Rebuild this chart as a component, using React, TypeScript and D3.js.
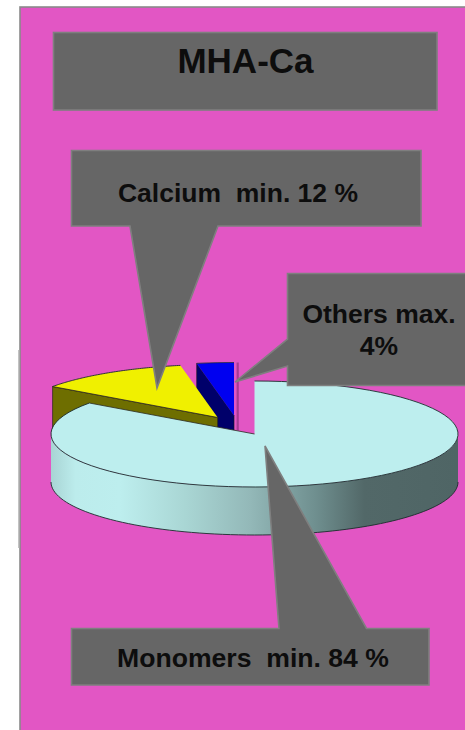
import React from "react";
import * as d3 from "d3";

// Composition of the product, in percent
const categories = ["Monomers", "Calcium", "Others"];
const sliceValues = [84, 12, 4];
const title = "MHA-Ca";
const calloutLabels = [["Calcium  min. 12 %"], ["Others max.", "4%"], ["Monomers  min. 84 %"]];

const W = 465;
const H = 730;
const RX = 203.5;
const RY = 53;
const DEPTH = 48;
const DEG = Math.PI / 180;

// Exploded slice centres on the tilted plane
const centres: Record<string, { x: number; y: number }> = {
  Monomers: { x: 254.5, y: 434 },
  Calcium: { x: 217.7, y: 417.5 },
  Others: { x: 234, y: 415.5 },
};

const colours: Record<string, { top: string; wall: string }> = {
  Monomers: { top: "#bdeeee", wall: "url(#rim)" },
  Calcium: { top: "#f0f000", wall: "#6e6e00" },
  Others: { top: "#0000f0", wall: "#00006a" },
};

// The tilted view stretches the angles slightly, up to the closing edge at 12 o'clock
const viewAngle = d3.scaleLinear().domain([0, 360 * DEG]).range([0, 364 * DEG]).clamp(true);
const clampAngle = (a: number) => Math.min(viewAngle(a), 2 * Math.PI);

const slices = d3.pie<number>().sort(null)(sliceValues).map((s, i) => ({
  name: categories[i],
  start: clampAngle(s.startAngle),
  end: clampAngle(s.endAngle),
}));

const unitArc = d3.arc<{ start: number; end: number }>()
  .innerRadius(0)
  .outerRadius(1)
  .startAngle((d) => d.start)
  .endAngle((d) => d.end);

const rimLine = d3.line<[number, number]>();

function project(c: { x: number; y: number }, a: number, dy = 0): [number, number] {
  return [c.x + RX * Math.sin(a), c.y - RY * Math.cos(a) + dy];
}

function arcPoints(c: { x: number; y: number }, a0: number, a1: number, dy = 0) {
  return d3.range(0, 81).map((k) => project(c, a0 + ((a1 - a0) * k) / 80, dy));
}

function cutFace(c: { x: number; y: number }, a: number) {
  const p = project(c, a);
  const apex: [number, number] = [c.x, c.y];
  return (rimLine([p, apex, [c.x, c.y + DEPTH], [p[0], p[1] + DEPTH]]) as string) + "Z";
}

function Slice({ s }: { s: (typeof slices)[number] }) {
  const c = centres[s.name];
  const col = colours[s.name];
  return (
    <g>
      {s.name !== "Monomers" && (
        <path d={cutFace(c, s.start)} fill={col.wall} stroke="#1a1a1a" strokeWidth={0.6} />
      )}
      {s.name === "Monomers" && (
        <path
          d={
            (rimLine([
              ...arcPoints(c, 90 * DEG, 270 * DEG),
              ...arcPoints(c, 270 * DEG, 90 * DEG, DEPTH),
            ]) as string) + "Z"
          }
          fill={col.wall}
        />
      )}
      {s.name === "Monomers" && (
        <path
          d={rimLine(arcPoints(c, 90 * DEG, 270 * DEG, DEPTH)) as string}
          fill="none"
          stroke="#1c2c2c"
          strokeWidth={0.9}
        />
      )}
      <path
        d={unitArc(s) as string}
        transform={`translate(${c.x},${c.y}) scale(${RX},${RY})`}
        fill={col.top}
      />
      <path
        d={rimLine(arcPoints(c, s.start, s.end)) as string}
        fill="none"
        stroke="#1c2c2c"
        strokeWidth={0.9}
      />
      {s.name !== "Others" && (
        <path
          d={rimLine([project(c, s.name === "Monomers" ? s.end : s.start), [c.x, c.y]]) as string}
          fill="none"
          stroke="#2a2a20"
          strokeWidth={0.8}
        />
      )}
    </g>
  );
}

function Callout({ d }: { d: string }) {
  return <path d={d} fill="#666666" stroke="#7f7f7f" strokeWidth={1.6} strokeLinejoin="miter" />;
}

const labelStyle: React.CSSProperties = {
  fontFamily: "'Liberation Sans', Arial, sans-serif",
  fontWeight: 700,
  whiteSpace: "pre",
  fill: "#0d0d0d",
};

const byName = (n: string) => slices.find((s) => s.name === n)!;

export default function App() {
  const others = centres.Others;
  return (
    <svg
      width={W}
      height={H}
      viewBox={`0 0 ${W} ${H}`}
      style={{ position: "absolute", left: 0, top: 0, display: "block", background: "#fff" }}
    >
      <defs>
        <linearGradient id="rim" gradientUnits="userSpaceOnUse" x1={51} x2={458} y1={0} y2={0}>
          <stop offset="0" stopColor="#a8d4d4" />
          <stop offset="0.06" stopColor="#bcecec" />
          <stop offset="0.17" stopColor="#bdeeee" />
          <stop offset="0.33" stopColor="#a9d6d4" />
          <stop offset="0.49" stopColor="#93b8b8" />
          <stop offset="0.65" stopColor="#6f8f8f" />
          <stop offset="0.77" stopColor="#526868" />
          <stop offset="1" stopColor="#4f6565" />
        </linearGradient>
      </defs>

      {/* Slide panel */}
      <rect x={20} y={7} width={W} height={H} fill="#e256c4" stroke="#8a8a8a" strokeWidth={1.6} />
      <rect x={18.2} y={350} width={1.2} height={198} fill="#b5b5b5" />

      {/* Title */}
      <rect x={53.5} y={32.5} width={383.5} height={77.5} fill="#666666" stroke="#7f7f7f" strokeWidth={1.6} />
      <text x={245.5} y={73} textAnchor="middle" fontSize={35} style={labelStyle}>{title}</text>

      {/* Thin shadow beside the small slice */}
      <rect x={236.6} y={others.y - RY} width={2.2} height={RY + 15} fill="#a63a94" />

      {/* Slices, back to front */}
      <Slice s={byName("Others")} />
      <Slice s={byName("Calcium")} />
      <Slice s={byName("Monomers")} />

      {/* Callouts */}
      <Callout d="M71.5,150.5H421V226H218L157,388L130,226H71.5Z" />
      <text x={238} y={201.5} textAnchor="middle" fontSize={26.5} style={labelStyle}>{calloutLabels[0][0]}</text>

      <Callout d="M287.5,273.5H470V385.5H287.5V366L235,382L287.5,339Z" />
      <text x={379} y={323} textAnchor="middle" fontSize={26.5} style={labelStyle}>{calloutLabels[1][0]}</text>
      <text x={379} y={355} textAnchor="middle" fontSize={26.5} style={labelStyle}>{calloutLabels[1][1]}</text>

      <Callout d="M71.5,628.5H279L265,446L366.5,628.5H429V685H71.5Z" />
      <text x={253} y={667} textAnchor="middle" fontSize={26.6} style={labelStyle}>{calloutLabels[2][0]}</text>
    </svg>
  );
}
